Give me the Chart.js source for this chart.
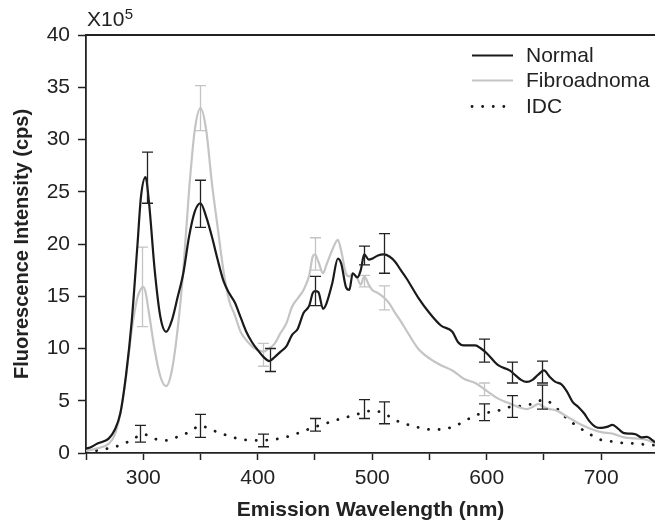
<!DOCTYPE html>
<html>
<head>
<meta charset="utf-8">
<script src="https://cdn.jsdelivr.net/npm/chart.js@4"></script>
<style>
  html, body { margin: 0; padding: 0; background: #fff; }
  #wrap { width: 655px; height: 524px; position: relative; }
</style>
</head>
<body>
<div id="wrap"><canvas id="spectra"></canvas></div>
<script>
// emission wavelength (nm) and intensity (x10^5 cps)
const normalNm  = [250,255,260,265,270,275,280,285,290,295,298,302,305,310,315,320,325,330,335,340,345,350,355,360,365,370,375,380,385,390,395,400,405,410,415,420,425,430,435,440,445,448,450,453,457,460,465,470,473,477,480,483,487,490,493,497,500,505,510,515,520,525,530,540,550,560,570,575,580,590,595,600,610,620,625,630,635,640,645,650,655,660,665,670,675,680,685,690,695,700,705,710,715,720,725,730,735,740,745,747];
const normalVal = [0.4,0.6,0.9,1.1,1.4,2.2,3.8,7.5,12.7,20,24.5,26.4,24,17.5,13,11.6,12.7,14.9,17.2,20.7,23.1,23.9,22.6,20.7,18.5,16.5,15.3,14.4,13,11.6,10.6,9.85,9.2,8.8,9.2,9.7,10.2,11.3,11.9,13.4,14.1,15.3,15.5,15.4,13.8,14.3,16.2,18.6,18.1,15.9,15.6,17.2,16.8,17.5,19.0,18.5,18.6,18.9,19.0,18.8,18.3,17.5,16.7,14.9,13.4,12.2,11.6,10.6,10.3,10.3,10.0,9.55,8.4,7.9,7.45,7.0,6.8,7.0,7.5,7.9,7.3,6.8,6.6,5.9,4.9,4.4,3.8,3.0,2.5,2.4,2.5,2.7,2.3,1.9,1.85,1.8,1.5,1.55,1.2,1.0];

const fibroNm  = [250,260,270,275,280,285,290,295,298,300,302,305,310,315,320,325,330,335,340,345,350,355,360,365,370,375,380,385,390,395,400,405,410,415,420,425,430,435,440,445,448,450,453,457,460,465,470,473,477,480,483,487,490,493,497,500,505,510,515,520,525,530,540,550,560,570,580,590,600,610,620,630,635,640,645,650,655,660,670,680,690,700,710,720,730,740,747];
const fibroVal = [0.2,0.45,0.9,1.7,3.8,7.3,11.8,14.9,15.7,15.9,15.4,13.4,9.85,7.3,6.4,7.9,11.8,17.5,25.1,30.9,33,30.9,25.8,21.6,17.5,14.6,13.2,11.6,10.8,10.2,9.85,9.7,10,10.5,11.5,12.4,14,14.8,15.6,17,18.8,19,18.3,17.2,18,19.4,20.4,19.3,17.2,16.9,17.2,16.7,16.1,16.9,16.1,15.6,15.3,14.9,14.3,13.4,12.6,11.7,10,9.05,8.4,7.9,7.1,6.7,5.95,5.2,4.75,4.3,4.2,4.4,4.7,4.4,4.2,4.1,3.5,2.85,2.35,2.0,1.85,1.5,1.4,1.25,0.9];

const idcNm  = [250,260,270,280,290,300,310,320,330,340,350,360,370,380,390,400,410,420,430,440,450,460,470,480,490,500,510,520,530,540,550,560,570,580,590,600,610,620,630,640,650,660,670,680,690,700,710,720,730,740,747];
const idcVal = [0.1,0.25,0.45,0.75,1.25,1.8,1.35,1.2,1.55,2.0,2.6,2.2,1.8,1.45,1.25,1.2,1.25,1.4,1.7,2.1,2.5,2.85,3.2,3.5,3.8,4.05,3.8,3.15,2.75,2.45,2.25,2.25,2.5,3.0,3.6,3.85,4.05,4.4,4.5,4.7,5.1,4.4,3.3,2.5,1.8,1.25,1.1,0.95,0.9,0.8,0.75];

// error bars: position, mean, half-height
const normalErrNm   = [303,350,411,450,493,510,598,622,648];
const normalErrMean = [26.35,23.85,8.9,15.5,18.9,19.1,9.8,7.7,7.75];
const normalErrSd   = [2.45,2.25,1.1,1.4,0.9,1.9,1.1,1.0,1.05];

const fibroErrNm   = [299,350,405,450,493,510,598];
const fibroErrMean = [15.9,33.0,9.4,19.05,16.45,14.85,6.1];
const fibroErrSd   = [3.8,2.15,1.1,1.55,0.55,1.15,0.6];

const idcErrNm   = [297,350,405,450,493,510,598,622,648];
const idcErrMean = [1.85,2.6,1.2,2.7,4.2,3.85,3.9,4.45,5.35];
const idcErrSd   = [0.8,1.1,0.6,0.6,0.9,1.05,0.8,1.05,1.15];

const seriesNames = ['Normal', 'Fibroadnoma', 'IDC'];
const scaleFactor = 'X10';
const scaleExp = '5';

const FONT = '"Liberation Sans", Arial, sans-serif';
const INK = '#222';
const GRAY = '#c4c4c4';

const pairs = (xs, ys) => xs.map((v, i) => ({ x: v, y: ys[i] }));

function drawBars(chart, nm, mean, sd, color) {
  const { ctx, scales: { x, y } } = chart;
  ctx.save();
  ctx.strokeStyle = color;
  ctx.lineWidth = 1.3;
  nm.forEach((w, i) => {
    const px = Math.round(x.getPixelForValue(w)) + 0.5;
    const top = y.getPixelForValue(mean[i] + sd[i]);
    const bot = y.getPixelForValue(mean[i] - sd[i]);
    ctx.beginPath();
    ctx.moveTo(px, top); ctx.lineTo(px, bot);
    ctx.moveTo(px - 5.5, top); ctx.lineTo(px + 5.5, top);
    ctx.moveTo(px - 5.5, bot); ctx.lineTo(px + 5.5, bot);
    ctx.stroke();
  });
  ctx.restore();
}

const extras = {
  id: 'extras',
  beforeDatasetsDraw(chart) {
    drawBars(chart, fibroErrNm, fibroErrMean, fibroErrSd, GRAY);
  },
  afterDatasetsDraw(chart) {
    drawBars(chart, normalErrNm, normalErrMean, normalErrSd, INK);
    drawBars(chart, idcErrNm, idcErrMean, idcErrSd, INK);
  },
  afterDraw(chart) {
    const { ctx, chartArea: a } = chart;
    ctx.save();
    // top frame line
    ctx.strokeStyle = INK;
    ctx.lineWidth = 1.8;
    ctx.beginPath();
    ctx.moveTo(a.left, a.top);
    ctx.lineTo(a.right, a.top);
    ctx.stroke();

    // x10^5 multiplier
    ctx.fillStyle = INK;
    ctx.textBaseline = 'alphabetic';
    ctx.font = '21px ' + FONT;
    ctx.fillText(scaleFactor, 87, 26);
    const w = ctx.measureText(scaleFactor).width;
    ctx.font = '15px ' + FONT;
    ctx.fillText(scaleExp, 87 + w + 0.5, 18.5);

    // legend
    const rows = [55.5, 80.5, 106.5];
    chart.data.datasets.forEach((ds, i) => {
      const yy = rows[i];
      ctx.strokeStyle = ds.borderColor;
      ctx.lineWidth = ds.borderWidth;
      ctx.lineCap = ds.borderCapStyle || 'butt';
      ctx.setLineDash(ds.borderDash || []);
      ctx.beginPath();
      ctx.moveTo(472, yy);
      ctx.lineTo(513, yy);
      ctx.stroke();
      ctx.setLineDash([]);
      ctx.fillStyle = INK;
      ctx.font = '21px ' + FONT;
      ctx.textBaseline = 'middle';
      ctx.fillText(ds.label, 526, yy + 1);
    });
    ctx.restore();
  }
};

new Chart(document.getElementById('spectra'), {
  type: 'line',
  data: {
    datasets: [
      {
        label: seriesNames[0],
        data: pairs(normalNm, normalVal),
        borderColor: '#1a1a1a',
        borderWidth: 2.2,
        pointRadius: 0,
        cubicInterpolationMode: 'monotone'
      },
      {
        label: seriesNames[1],
        data: pairs(fibroNm, fibroVal),
        borderColor: GRAY,
        borderWidth: 2.2,
        pointRadius: 0,
        cubicInterpolationMode: 'monotone'
      },
      {
        label: seriesNames[2],
        data: pairs(idcNm, idcVal),
        borderColor: '#1a1a1a',
        borderWidth: 2.8,
        borderDash: [0.1, 10.5],
        borderCapStyle: 'round',
        pointRadius: 0,
        cubicInterpolationMode: 'monotone'
      }
    ]
  },
  options: {
    responsive: true,
    maintainAspectRatio: false,
    animation: false,
    layout: { padding: { top: 35, right: 0, left: 0, bottom: 0 } },
    plugins: {
      legend: { display: false },
      tooltip: { enabled: false }
    },
    scales: {
      x: {
        type: 'linear',
        min: 250,
        max: 747,
        afterFit: s => { s.height = 71; s.paddingLeft = 0; s.paddingRight = 0; },
        ticks: {
          stepSize: 50,
          includeBounds: false,
          autoSkip: false,
          maxRotation: 0,
          padding: 6,
          color: INK,
          font: { family: FONT, size: 21 },
          callback: v => (v % 100 === 0 ? v : '')
        },
        grid: { drawOnChartArea: false, tickLength: 7, tickColor: INK, tickWidth: 1.5 },
        border: { color: INK, width: 1.8 },
        title: {
          display: true,
          text: 'Emission Wavelength (nm)',
          color: INK,
          font: { family: FONT, size: 21, weight: 'bold' },
          padding: { top: 0, bottom: 1 }
        }
      },
      y: {
        min: 0,
        max: 40,
        afterFit: s => { s.width = 86; s.paddingTop = 0; s.paddingBottom = 0; },
        ticks: {
          stepSize: 2.5,
          padding: 8,
          color: INK,
          font: { family: FONT, size: 21 },
          callback: v => (v % 5 === 0 ? v : '')
        },
        grid: { drawOnChartArea: false, tickLength: 8, tickColor: INK, tickWidth: 1.5 },
        border: { color: INK, width: 1.8 },
        title: {
          display: true,
          text: 'Fluorescence Intensity (cps)',
          color: INK,
          font: { family: FONT, size: 20, weight: 'bold' },
          padding: { top: 10, bottom: 0 }
        }
      }
    }
  },
  plugins: [extras]
});
</script>
</body>
</html>
